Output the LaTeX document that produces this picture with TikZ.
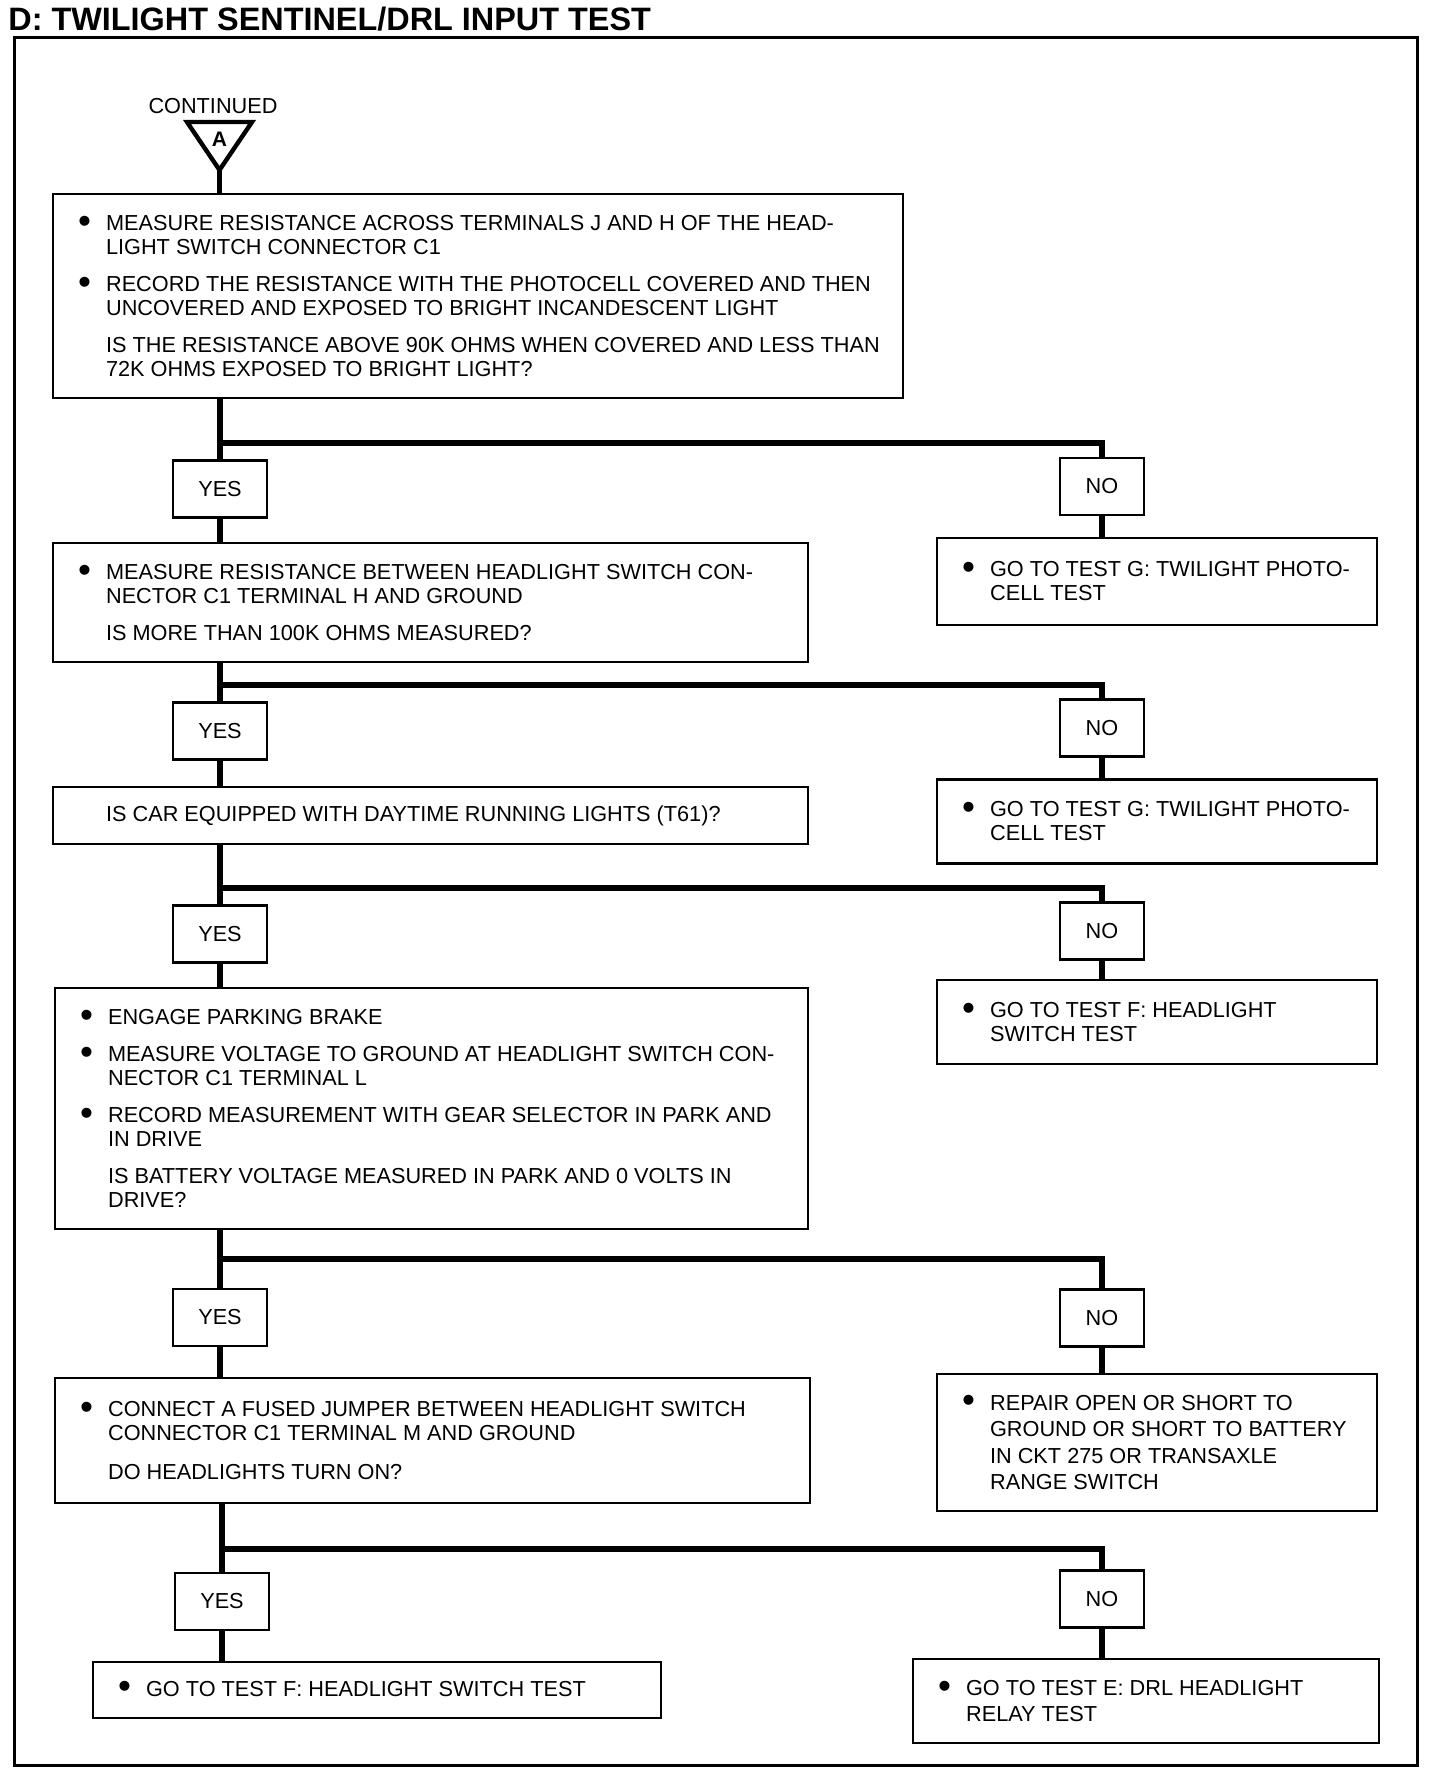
\documentclass[tikz,border=0pt]{standalone}
\usepackage{fontspec}
\setmainfont{Liberation Sans}
\usetikzlibrary{calc}

% Styles for the chart
\tikzset{
  stepbox/.style={draw, line width=1.3pt, inner sep=0pt},
  answer/.style={draw, line width=1.3pt, inner sep=0pt, minimum width=47pt, minimum height=28.5pt},
  boxtext/.style={anchor=west, align=left, inner sep=0pt},
  flow/.style={line width=2.6pt},
}
\newcommand{\bul}{\llap{\raisebox{-1.4pt}{\scalebox{1.7}{\textbullet}}\hspace{7.5pt}}}

\begin{document}
\begin{tikzpicture}[x=0.5pt, y=-0.5pt, font=\fontsize{10.85}{12}\selectfont]
\useasboundingbox (0,0) rectangle (1440,1776);

% Title and frame
\node[anchor=base west, inner sep=0pt, font=\bfseries\fontsize{16.2}{18}\selectfont] (title) at (8,31) {D: TWILIGHT SENTINEL/DRL INPUT TEST};
\draw[line width=1.5pt] (14,38) rectangle (1417,1765);

% Entry marker
\node[inner sep=0pt] (cont) at (213,106) {CONTINUED};
\draw[line width=2.2pt] (187,122) -- (252,122) -- (219.5,170) -- cycle;
\node[inner sep=0pt, font=\bfseries\fontsize{10.5}{11}\selectfont] (mark) at (219.5,139) {A};
\coordinate (apex) at (219.5,170);

% Main column of steps
\node[stepbox, minimum width=425pt, minimum height=102pt] (q1) at (478,296) {};
\node[boxtext] (q1t) at ([xshift=27pt]q1.west) {\bul MEASURE RESISTANCE ACROSS TERMINALS J AND H OF THE HEAD-\\
LIGHT SWITCH CONNECTOR C1\\[6.5pt]
\bul RECORD THE RESISTANCE WITH THE PHOTOCELL COVERED AND THEN\\
UNCOVERED AND EXPOSED TO BRIGHT INCANDESCENT LIGHT\\[6.5pt]
IS THE RESISTANCE ABOVE 90K OHMS WHEN COVERED AND LESS THAN\\
72K OHMS EXPOSED TO BRIGHT LIGHT?};

\node[stepbox, minimum width=377.5pt, minimum height=59.5pt] (q2) at (430.5,602.5) {};
\node[boxtext] (q2t) at ([xshift=27pt]q2.west) {\bul MEASURE RESISTANCE BETWEEN HEADLIGHT SWITCH CON-\\
NECTOR C1 TERMINAL H AND GROUND\\[6.5pt]
IS MORE THAN 100K OHMS MEASURED?};

\node[stepbox, minimum width=377.5pt, minimum height=28.5pt] (q3) at (430.5,815.5) {};
\node[boxtext] (q3t) at ([xshift=27pt]q3.west) {IS CAR EQUIPPED WITH DAYTIME RUNNING LIGHTS (T61)?};

\node[stepbox, minimum width=376.5pt, minimum height=120.5pt] (q4) at (431.5,1108.5) {};
\node[boxtext] (q4t) at ([xshift=27pt]q4.west) {\bul ENGAGE PARKING BRAKE\\[6.5pt]
\bul MEASURE VOLTAGE TO GROUND AT HEADLIGHT SWITCH CON-\\
NECTOR C1 TERMINAL L\\[6.5pt]
\bul RECORD MEASUREMENT WITH GEAR SELECTOR IN PARK AND\\
IN DRIVE\\[6.5pt]
IS BATTERY VOLTAGE MEASURED IN PARK AND 0 VOLTS IN\\
DRIVE?};

\node[stepbox, minimum width=377.5pt, minimum height=62.5pt] (q5) at (432.5,1440.5) {};
\node[boxtext] (q5t) at ([xshift=27pt]q5.west) {\bul CONNECT A FUSED JUMPER BETWEEN HEADLIGHT SWITCH\\
CONNECTOR C1 TERMINAL M AND GROUND\\[7.5pt]
DO HEADLIGHTS TURN ON?};

\node[stepbox, minimum width=284pt, minimum height=28pt] (q6) at (377,1690) {};
\node[boxtext] (q6t) at ([xshift=27pt]q6.west) {\bul GO TO TEST F: HEADLIGHT SWITCH TEST};

% Right column of outcomes
\node[stepbox, minimum width=220pt, minimum height=43.5pt] (n1) at (1157,581.5) {};
\node[boxtext] (n1t) at ([xshift=27pt]n1.west) {\bul GO TO TEST G: TWILIGHT PHOTO-\\
CELL TEST};

\node[stepbox, minimum width=220pt, minimum height=42pt] (n2) at (1157,821.5) {};
\node[boxtext] (n2t) at ([xshift=27pt]n2.west) {\bul GO TO TEST G: TWILIGHT PHOTO-\\
CELL TEST};

\node[stepbox, minimum width=220pt, minimum height=42pt] (n3) at (1157,1022) {};
\node[boxtext] (n3t) at ([xshift=27pt]n3.west) {\bul GO TO TEST F: HEADLIGHT\\
SWITCH TEST};

\node[stepbox, minimum width=220pt, minimum height=68.5pt] (n4) at (1157,1442.5) {};
\node[boxtext] (n4t) at ([xshift=27pt]n4.west) {\bul REPAIR OPEN OR SHORT TO\\[1.3pt]
GROUND OR SHORT TO BATTERY\\[1.3pt]
IN CKT 275 OR TRANSAXLE\\[1.3pt]
RANGE SWITCH};

\node[stepbox, minimum width=233pt, minimum height=42pt] (n5) at (1146,1701) {};
\node[boxtext] (n5t) at ([xshift=27pt]n5.west) {\bul GO TO TEST E: DRL HEADLIGHT\\[1pt]
RELAY TEST};

% YES / NO labels
\node[answer] (y1) at (220,489) {YES};
\node[answer] (y2) at (220,731) {YES};
\node[answer] (y3) at (220,934) {YES};
\node[answer] (y4) at (220,1317.5) {YES};
\node[answer] (y5) at (222,1601.5) {YES};
\node[answer, minimum width=42pt] (nl1) at (1102,486.5) {NO};
\node[answer, minimum width=42pt] (nl2) at (1102,728) {NO};
\node[answer, minimum width=42pt] (nl3) at (1102,931) {NO};
\node[answer, minimum width=42pt] (nl4) at (1102,1318) {NO};
\node[answer, minimum width=42pt] (nl5) at (1102,1599) {NO};

% Branch points
\coordinate (b1) at (220,443);
\coordinate (b2) at (220,685);
\coordinate (b3) at (220,888);
\coordinate (b4) at (220,1259);
\coordinate (b5) at (222,1549);

% Connectors
\draw[flow] (apex) -- (apex |- q1.north);

\draw[flow] (q1.south -| b1) -- (y1.north);
\draw[flow] (b1) -| (nl1.north);
\draw[flow] (y1.south) -- (y1.south |- q2.north);
\draw[flow] (nl1.south) -- (nl1.south |- n1.north);

\draw[flow] (q2.south -| b2) -- (y2.north);
\draw[flow] (b2) -| (nl2.north);
\draw[flow] (y2.south) -- (y2.south |- q3.north);
\draw[flow] (nl2.south) -- (nl2.south |- n2.north);

\draw[flow] (q3.south -| b3) -- (y3.north);
\draw[flow] (b3) -| (nl3.north);
\draw[flow] (y3.south) -- (y3.south |- q4.north);
\draw[flow] (nl3.south) -- (nl3.south |- n3.north);

\draw[flow] (q4.south -| b4) -- (y4.north);
\draw[flow] (b4) -| (nl4.north);
\draw[flow] (y4.south) -- (y4.south |- q5.north);
\draw[flow] (nl4.south) -- (nl4.south |- n4.north);

\draw[flow] (q5.south -| b5) -- (y5.north);
\draw[flow] (b5) -| (nl5.north);
\draw[flow] (y5.south) -- (y5.south |- q6.north);
\draw[flow] (nl5.south) -- (nl5.south |- n5.north);
\end{tikzpicture}
\end{document}
